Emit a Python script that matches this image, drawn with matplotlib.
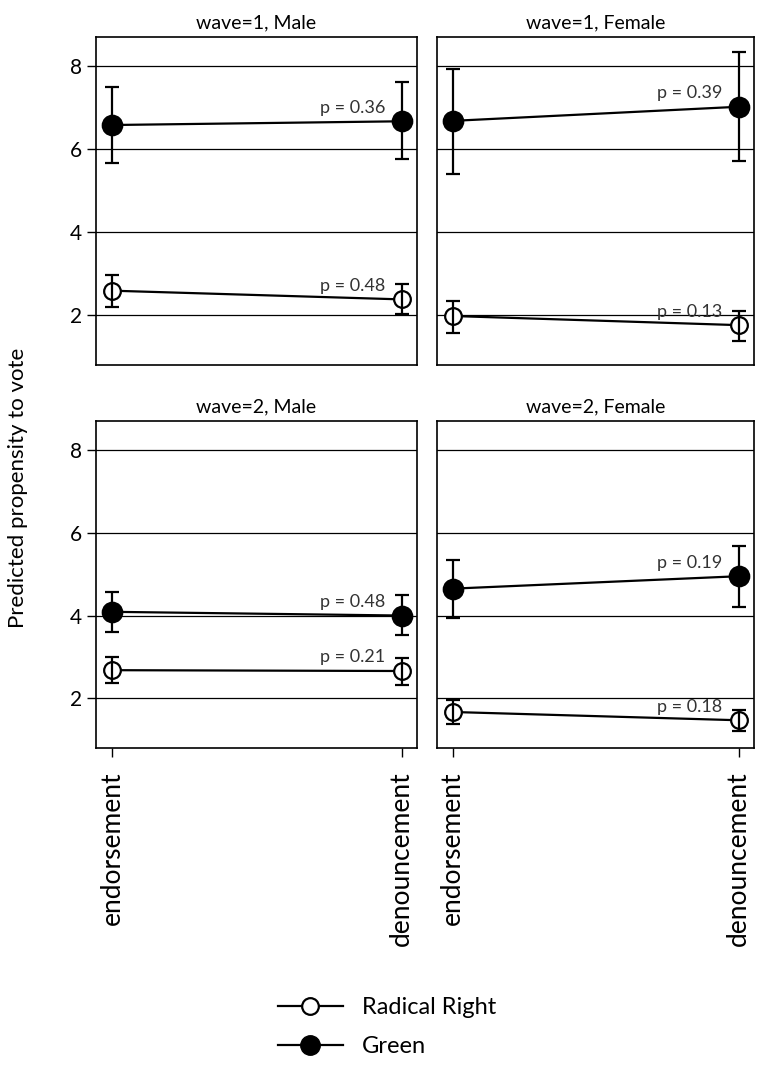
import matplotlib
matplotlib.use("Agg")
import matplotlib.pyplot as plt
from matplotlib.lines import Line2D

plt.rcParams['font.family'] = ['Lato', 'DejaVu Sans']

conditions = ["endorsement", "denouncement"]
panel_titles = ["wave=1, Male", "wave=1, Female", "wave=2, Male", "wave=2, Female"]

# Predicted propensity to vote with 95% CI, per panel: [endorsement, denouncement]
green_mean = [[6.58, 6.67], [6.68, 7.02], [4.09, 4.00], [4.65, 4.95]]
green_lo = [[5.66, 5.75], [5.41, 5.71], [3.61, 3.53], [3.94, 4.21]]
green_hi = [[7.49, 7.61], [7.93, 8.33], [4.56, 4.50], [5.34, 5.69]]
green_p = ["p = 0.36", "p = 0.39", "p = 0.48", "p = 0.19"]

rr_mean = [[2.59, 2.38], [1.98, 1.76], [2.68, 2.66], [1.67, 1.47]]
rr_lo = [[2.19, 2.02], [1.56, 1.38], [2.36, 2.32], [1.37, 1.20]]
rr_hi = [[2.96, 2.75], [2.34, 2.10], [3.00, 2.98], [1.96, 1.73]]
rr_p = ["p = 0.48", "p = 0.13", "p = 0.21", "p = 0.18"]

yticks = [2, 4, 6, 8]

fig = plt.figure(figsize=(7.58, 10.71), dpi=100)
W, H = 758, 1071

# pixel boxes (left, top, right, bottom)
boxes = [(96, 37, 417, 365), (437, 37, 754, 365),
         (96, 421, 417, 748), (437, 421, 754, 748)]

axes = []
for (l, t, r, b) in boxes:
    ax = fig.add_axes([l / W, 1 - b / H, (r - l) / W, (b - t) / H])
    axes.append(ax)


def draw_series(ax, mean, lo, hi, label, filled):
    err = [[m - a for m, a in zip(mean, lo)], [b - m for m, b in zip(mean, hi)]]
    ax.plot(x, mean, color="black", lw=1.6, marker="o",
            ms=14 if filled else 12,
            mfc="black" if filled else "white", mec="black",
            mew=1.6, zorder=4)
    ax.errorbar(x, mean, yerr=err, fmt="none", ecolor="black",
                elinewidth=1.6, capsize=5, capthick=1.6, zorder=5)
    ax.annotate(label, xy=(1, mean[1]), xytext=(-12, 4),
                textcoords="offset points", ha="right", va="bottom",
                fontsize=13, color="#333333", zorder=6)


x = [0, 1]
for i, ax in enumerate(axes):
    ax.set_xlim(-0.055, 1.053)
    ax.set_ylim(0.8, 8.7)
    for yv in yticks:
        ax.axhline(yv, color="black", lw=0.9, zorder=1)

    draw_series(ax, rr_mean[i], rr_lo[i], rr_hi[i], rr_p[i], filled=False)
    draw_series(ax, green_mean[i], green_lo[i], green_hi[i], green_p[i],
                filled=True)

    ax.set_title(panel_titles[i], fontsize=14, pad=6)
    for s in ax.spines.values():
        s.set_linewidth(1.2)

    ax.set_xticks(x)
    ax.set_yticks(yticks)
    ax.tick_params(axis="both", direction="out", length=6.5, width=1)
    if i in (0, 2):
        ax.set_yticklabels([str(v) for v in yticks], fontsize=15)
    else:
        ax.tick_params(axis="y", left=False, labelleft=False)
    if i in (2, 3):
        ax.set_xticklabels(conditions, rotation=90, va="top", fontsize=19)
        ax.tick_params(axis="x", pad=10)
    else:
        ax.tick_params(axis="x", bottom=False, labelbottom=False)

fig.text(18 / W, 1 - 488 / H, "Predicted propensity to vote", rotation=90,
         ha="center", va="center", fontsize=16)

handles = [
    Line2D([0], [0], color="black", lw=1.6, marker="o", ms=12,
           mfc="white", mec="black", mew=1.6),
    Line2D([0], [0], color="black", lw=1.6, marker="o", ms=14,
           mfc="black", mec="black"),
]
fig.legend(handles, ["Radical Right", "Green"], loc="center",
           bbox_to_anchor=(387 / W, 1 - 1027 / H), frameon=False, fontsize=17,
           handlelength=2.75, labelspacing=0.75, handletextpad=0.8)

fig.savefig("out.png", dpi=100, facecolor="white")
